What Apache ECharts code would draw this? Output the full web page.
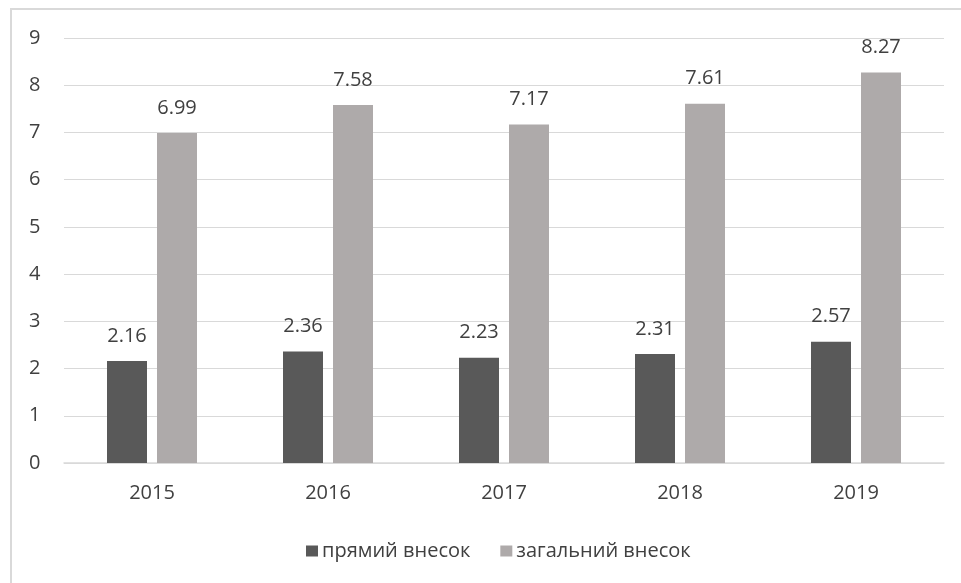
<!DOCTYPE html>
<html>
<head>
<meta charset="utf-8">
<script src="https://cdn.jsdelivr.net/npm/echarts@6/dist/echarts.min.js"></script>
<style>
  html, body { margin: 0; padding: 0; background: #fff; }
  #chart { width: 961px; height: 583px; }
</style>
</head>
<body>
<div id="chart"></div>
<script>
// Years on the category axis
const years = ['2015', '2016', '2017', '2018', '2019'];
// Direct contribution
const directShare = [2.16, 2.36, 2.23, 2.31, 2.57];
// Total contribution
const totalShare = [6.99, 7.58, 7.17, 7.61, 8.27];
// Value-axis ticks
const yTicks = [0, 1, 2, 3, 4, 5, 6, 7, 8, 9];

const FONT = '"Open Sans", "DejaVu Sans", sans-serif';
const TEXT = '#404040';
const chart = echarts.init(document.getElementById('chart'));

const labelStyle = {
  show: true,
  position: 'top',
  distance: 15,
  color: TEXT,
  fontSize: 20,
  fontFamily: FONT,
  formatter: p => p.value.toFixed(2)
};

chart.setOption({
  animation: false,
  backgroundColor: '#fff',
  graphic: [{
    type: 'rect',
    shape: { x: 11, y: 9, width: 1000, height: 700 },
    style: { fill: 'none', stroke: '#d9d9d9', lineWidth: 2 },
    silent: true
  }],
  legend: {
    top: 536,
    left: 301,
    itemWidth: 12,
    itemHeight: 11,
    itemGap: 30,
    icon: 'rect',
    textStyle: { color: TEXT, fontSize: 20, fontFamily: FONT, padding: [0, 0, 0, -1] },
    data: ['прямий внесок', 'загальний внесок']
  },
  grid: { left: 64, right: 17, top: 38, bottom: 120, containLabel: false },
  xAxis: {
    type: 'category',
    data: years,
    axisLine: { lineStyle: { color: '#d9d9d9', width: 1.5 } },
    axisTick: { show: false },
    axisLabel: { color: TEXT, fontSize: 20, fontFamily: FONT, margin: 20 }
  },
  yAxis: {
    type: 'value',
    min: yTicks[0],
    max: yTicks[yTicks.length - 1],
    interval: 1,
    axisLine: { show: false },
    axisTick: { show: false },
    splitLine: { lineStyle: { color: '#d9d9d9', width: 1 } },
    axisLabel: { color: TEXT, fontSize: 20, fontFamily: FONT, margin: 35, align: 'left',
      formatter: v => String(v) }
  },
  series: [
    {
      name: 'прямий внесок',
      type: 'bar',
      data: directShare,
      barWidth: 40,
      barGap: '25%',
      itemStyle: { color: '#595959' },
      label: labelStyle
    },
    {
      name: 'загальний внесок',
      type: 'bar',
      data: totalShare,
      barWidth: 40,
      barGap: '25%',
      itemStyle: { color: '#aeaaaa' },
      label: labelStyle
    }
  ]
});
</script>
</body>
</html>
